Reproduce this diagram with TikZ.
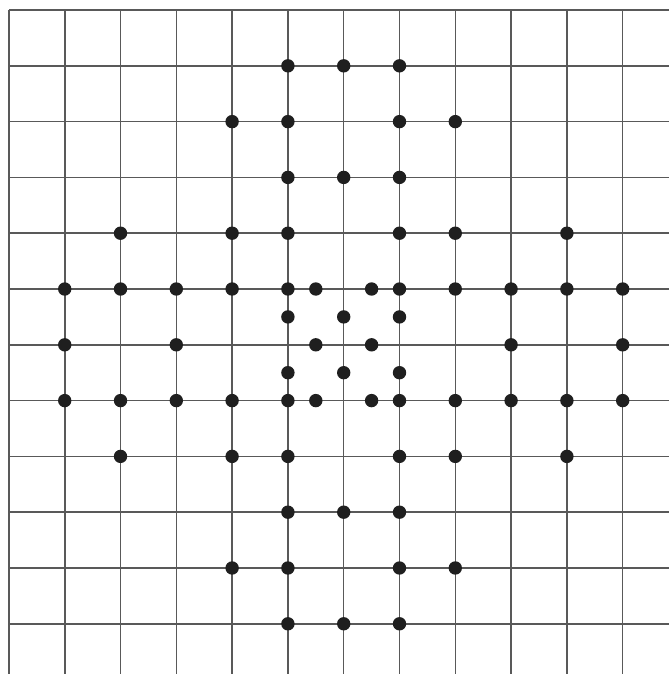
\documentclass[tikz,border=0pt]{standalone}
\usetikzlibrary{calc}
\tikzstyle{dt}=[shape=circle, minimum size=2.4mm, inner sep=0, fill=black!88]
\tikzstyle{gl}=[black!65, line width=.8pt]

\begin{document}
\begin{tikzpicture}
\useasboundingbox (-0.16,0.18) rectangle (11.83,-11.9);
\fill[white] (-0.16,0.18) rectangle (11.83,-11.9);
\foreach \x in {0,...,11} {\draw[gl] (\x,0)--(\x,-11.9);}
\foreach \y in {0,...,11} {\draw[gl] (0,-\y)--(11.83,-\y);}
%outer dots
\foreach \x/\y [count=\n] in {5/1,6/1,7/1, 4/2,5/2,7/2,8/2, 5/3,6/3,7/3, 2/4,4/4,5/4,7/4,8/4,10/4,
  1/5,2/5,3/5,4/5,5/5,7/5,8/5,9/5,10/5,11/5, 1/6,3/6,9/6,11/6,
  1/7,2/7,3/7,4/7,5/7,7/7,8/7,9/7,10/7,11/7, 2/8,4/8,5/8,7/8,8/8,10/8,
  5/9,6/9,7/9, 4/10,5/10,7/10,8/10, 5/11,6/11,7/11} {\node at (\x,-\y)[dt](a\n){};}
%inner dots
\foreach \x/\y [count=\n] in {5.5/5,6.5/5, 5/5.5,6/5.5,7/5.5, 5.5/6,6.5/6, 5/6.5,6/6.5,7/6.5, 5.5/7,6.5/7} {\node at (\x,-\y)[dt](b\n){};}
\end{tikzpicture}
\end{document}
